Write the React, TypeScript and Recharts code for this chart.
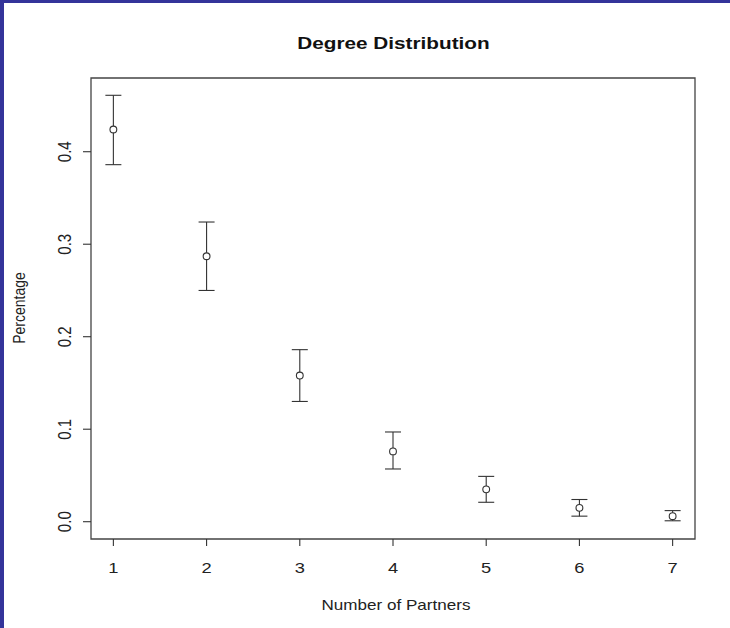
import React from "react";
import {
  ScatterChart,
  Scatter,
  XAxis,
  YAxis,
  ErrorBar,
  ReferenceArea,
} from "recharts";

const partners = [1, 2, 3, 4, 5, 6, 7];
const percentage = [0.424, 0.287, 0.158, 0.076, 0.035, 0.015, 0.006];
const lower = [0.386, 0.25, 0.13, 0.057, 0.021, 0.006, 0.001];
const upper = [0.461, 0.324, 0.186, 0.097, 0.049, 0.024, 0.012];

const xTicks = [1, 2, 3, 4, 5, 6, 7];
const yTicks = [0, 0.1, 0.2, 0.3, 0.4];
const yTickLabels = ["0.0", "0.1", "0.2", "0.3", "0.4"];

const xDomain = [0.76, 7.24];
const yDomain = [-0.0187, 0.4797];

const data = partners.map((p, i) => ({
  x: p,
  y: percentage[i],
  err: [percentage[i] - lower[i], upper[i] - percentage[i]],
}));

const FONT = '"Liberation Sans", Arial, sans-serif';
const INK = "#333";
const STRETCH = 1.22;

function XTick(props: any) {
  const { x, y, payload } = props;
  return (
    <text
      transform={`translate(${x},${y + 27}) scale(${STRETCH},1)`}
      textAnchor="middle"
      fontFamily={FONT}
      fontSize={15}
      fill="#222"
    >
      {payload.value}
    </text>
  );
}

function YTick(props: any) {
  const { x, y, payload } = props;
  const idx = yTicks.indexOf(payload.value);
  const label = idx >= 0 ? yTickLabels[idx] : String(payload.value);
  return (
    <text
      transform={`translate(${x - 12.5},${y}) scale(${STRETCH},1) rotate(-90)`}
      textAnchor="middle"
      fontFamily={FONT}
      fontSize={15}
      fill="#222"
    >
      {label}
    </text>
  );
}

function Dot(props: any) {
  const { cx, cy } = props;
  return <circle cx={cx} cy={cy} r={3.4} fill="#fff" stroke={INK} strokeWidth={1.1} />;
}

export default function App() {
  return (
    <div
      style={{
        position: "absolute",
        left: 0,
        top: 0,
        width: 730,
        height: 628,
        background: "#fff",
        overflow: "hidden",
      }}
    >
      <div style={{ position: "absolute", left: 0, top: 0, width: 730, height: 3, background: "#34349a" }} />
      <div style={{ position: "absolute", left: 0, top: 0, width: 4, height: 628, background: "#34349a" }} />
      <ScatterChart
        width={730}
        height={628}
        margin={{ top: 78, right: 35, bottom: 0, left: 0 }}
      >
        <XAxis
          type="number"
          dataKey="x"
          domain={xDomain}
          ticks={xTicks}
          allowDataOverflow
          axisLine={false}
          tickLine={{ stroke: INK, strokeWidth: 1.1 }}
          tickSize={7}
          tickMargin={0}
          height={89}
          tick={<XTick />}
          interval={0}
        />
        <YAxis
          type="number"
          dataKey="y"
          domain={yDomain}
          ticks={yTicks}
          allowDataOverflow
          axisLine={false}
          tickLine={{ stroke: INK, strokeWidth: 1.1 }}
          tickSize={8}
          tickMargin={0}
          width={91}
          tick={<YTick />}
          interval={0}
        />
        <ReferenceArea
          x1={xDomain[0]}
          x2={xDomain[1]}
          y1={yDomain[0]}
          y2={yDomain[1]}
          fill="none"
          fillOpacity={0}
          stroke="#444"
          strokeWidth={1.3}
          ifOverflow="visible"
        />
        <Scatter data={data} shape={<Dot />} isAnimationActive={false}>
          <ErrorBar dataKey="err" width={8} stroke={INK} strokeWidth={1.1} direction="y" />
        </Scatter>
        <text
          transform={`translate(393.5,49) scale(${STRETCH},1)`}
          textAnchor="middle"
          fontFamily={FONT}
          fontWeight="bold"
          fontSize={17}
          fill="#111"
        >
          Degree Distribution
        </text>
        <text
          transform={`translate(396,610) scale(${STRETCH},1)`}
          textAnchor="middle"
          fontFamily={FONT}
          fontSize={14}
          fill="#222"
        >
          Number of Partners
        </text>
        <text
          transform={`translate(25,308) scale(${STRETCH},1) rotate(-90)`}
          textAnchor="middle"
          fontFamily={FONT}
          fontSize={14}
          fill="#222"
        >
          Percentage
        </text>
      </ScatterChart>
    </div>
  );
}
